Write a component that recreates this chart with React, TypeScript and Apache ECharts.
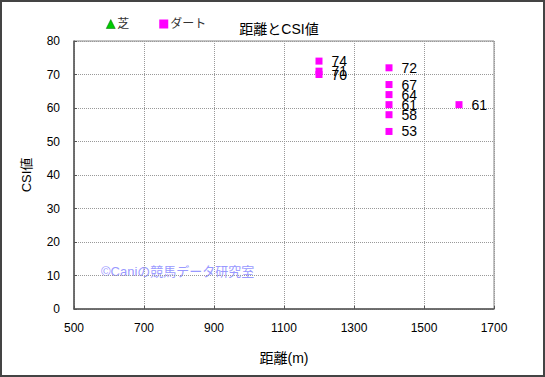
import React, { useEffect, useRef } from "react";
import * as echarts from "echarts";

const turfData: number[][] = [];
const dirtDistances = [1200, 1200, 1200, 1400, 1400, 1400, 1400, 1400, 1400, 1600];
const dirtCSI = [74, 71, 70, 72, 67, 64, 61, 58, 53, 61];
const xTicks = [500, 700, 900, 1100, 1300, 1500, 1700];
const yTicks = [0, 10, 20, 30, 40, 50, 60, 70, 80];

const FONT = "'Liberation Sans', 'Noto Sans CJK JP', sans-serif";

export default function App() {
  const ref = useRef<HTMLDivElement>(null);
  useEffect(() => {
    if (!ref.current) return;
    const chart = echarts.init(ref.current, undefined, { renderer: "svg" });
    chart.setOption({
      animation: false,
      backgroundColor: "#ffffff",
      title: {
        text: "距離とCSI値",
        left: 274,
        top: 17,
        textAlign: "center",
        textStyle: { fontSize: 14, fontWeight: "normal", color: "#000", fontFamily: FONT },
      },
      legend: {
        left: 101,
        top: 13,
        itemGap: 30,
        itemWidth: 9,
        itemHeight: 9,
        textStyle: { fontSize: 12, color: "#333", fontFamily: FONT, padding: [0, 0, 0, -3] },
        data: [
          { name: "芝", icon: "triangle", itemStyle: { color: "#00cc00", borderColor: "#006600", borderWidth: 0.5 } },
          { name: "ダート", icon: "rect", itemStyle: { color: "#ff00ff" } },
        ],
      },
      grid: { left: 74, right: 51, top: 41, bottom: 68 },
      xAxis: {
        type: "value",
        min: xTicks[0],
        max: xTicks[xTicks.length - 1],
        interval: 200,
        name: "距離(m)",
        nameLocation: "middle",
        nameGap: 42,
        nameTextStyle: { fontSize: 14, color: "#000", fontFamily: FONT },
        axisLine: { show: true, lineStyle: { color: "#555", width: 1.5 } },
        axisTick: { show: true, length: 3, inside: true, lineStyle: { color: "#555" } },
        axisLabel: { fontSize: 12, color: "#000", fontFamily: FONT, margin: 13, formatter: (v: number) => String(v) },
        splitLine: { show: true, lineStyle: { color: "#999", type: "dotted", width: 1 } },
      },
      yAxis: {
        type: "value",
        min: yTicks[0],
        max: yTicks[yTicks.length - 1],
        interval: 10,
        name: "CSI値",
        nameLocation: "middle",
        nameGap: 41,
        nameTextStyle: { fontSize: 13, color: "#000", fontFamily: FONT },
        axisLine: { show: true, lineStyle: { color: "#555", width: 1.5 } },
        axisTick: { show: true, length: 3, inside: true, lineStyle: { color: "#555" } },
        axisLabel: { fontSize: 12, color: "#000", fontFamily: FONT, margin: 14 },
        splitLine: { show: true, lineStyle: { color: "#999", type: "dotted", width: 1 } },
      },
      graphic: [
        {
          type: "rect",
          shape: { x: 1, y: 1, width: 543, height: 375 },
          style: { fill: "none", stroke: "#444", lineWidth: 2 },
          silent: true,
        },
        {
          type: "rect",
          shape: { x: 74, y: 41, width: 420, height: 268 },
          style: { fill: "none", stroke: "#888", lineWidth: 1 },
          silent: true,
        },
        {
          type: "text",
          left: 101,
          top: 265,
          style: { text: "©Caniの競馬データ研究室", fontSize: 13, fill: "#9999ff", fontFamily: FONT },
          silent: true,
        },
      ],
      series: [
        {
          name: "芝",
          type: "scatter",
          symbol: "triangle",
          symbolSize: 8,
          itemStyle: { color: "#00cc00", opacity: 1 },
          data: turfData,
        },
        {
          name: "ダート",
          type: "scatter",
          symbol: "rect",
          symbolSize: 7,
          itemStyle: { color: "#ff00ff", opacity: 1 },
          data: dirtDistances.map((d, i) => [d, dirtCSI[i]]),
          label: {
            show: true,
            position: "right",
            distance: 9,
            fontSize: 14,
            color: "#000",
            fontFamily: FONT,
            formatter: (p: any) => String(p.value[1]),
          },
          labelLayout: { hideOverlap: false },
        },
      ],
    });
    return () => chart.dispose();
  }, []);
  return (
    <div
      ref={ref}
      style={{ position: "fixed", left: 0, top: 0, width: 545, height: 377 }}
    />
  );
}
